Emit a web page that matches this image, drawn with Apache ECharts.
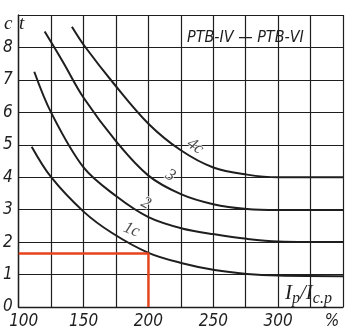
<!DOCTYPE html>
<html>
<head>
<meta charset="utf-8">
<style>
  html, body { margin: 0; padding: 0; background: #ffffff; }
  #chart { width: 352px; height: 336px; }
</style>
<script src="https://cdn.jsdelivr.net/npm/echarts@6/dist/echarts.min.js"></script>
</head>
<body>
<div id="chart"></div>
<script>
// Time-current characteristics of РТВ-IV – РТВ-VI relays:
// operating time t (s) versus overload ratio Ip/Ic.p (%)

// Curve "1c"
const ratio1 = [110, 125, 150, 172, 200, 226, 251, 276, 300, 350];
const time1  = [4.94, 4.0, 2.94, 2.28, 1.67, 1.35, 1.14, 1.02, 0.97, 0.95];

// Curve "2"
const ratio2 = [112, 125, 150, 175, 200, 226, 251, 276, 300, 350];
const time2  = [7.25, 5.99, 4.3, 3.42, 2.77, 2.42, 2.24, 2.1, 2.02, 2.0];

// Curve "3"
const ratio3 = [120, 134, 150, 176, 200, 225, 250, 276, 300, 350];
const time3  = [8.49, 7.56, 6.45, 5.06, 4.05, 3.48, 3.17, 3.02, 2.99, 2.99];

// Curve "4c"
const ratio4 = [141, 151, 174, 200, 225, 250, 276, 300, 350];
const time4  = [8.64, 8.03, 6.85, 5.65, 4.83, 4.3, 4.08, 4.0, 4.0];

const exampleRatio = [100, 200, 200];
const exampleTime  = [1.65, 1.65, 0];

// Curve tags and where they sit along each curve
const curveTags = ['1c', '2', '3', '4c'];
const tagRatio  = [187, 198, 217, 236];
const tagTime   = [2.38, 3.2, 4.05, 4.95];

// Axis ticks
const xTickLabels = [100, 150, 200, 250, 300];
const xUnitLabel = '%';
const yTickLabels = [0, 1, 2, 3, 4, 5, 6, 7, 8];

const ink = '#1e1e1e';
const tickFont = "'Liberation Sans Narrow', 'DejaVu Sans Condensed', sans-serif";
const serifFont = "'Liberation Serif', 'DejaVu Serif', serif";

function pairs(xs, ys) {
  return xs.map((x, i) => [x, ys[i]]);
}

function curveSeries(xs, ys) {
  return {
    type: 'line',
    data: pairs(xs, ys),
    smooth: 0.35,
    showSymbol: false,
    silent: true,
    lineStyle: { color: ink, width: 2 },
    z: 3
  };
}

const tagRotation = [-22, -28, -30, -35];

const chart = echarts.init(document.getElementById('chart'), null, { renderer: 'canvas' });

chart.setOption({
  backgroundColor: '#ffffff',
  animation: false,
  grid: { left: 16, right: 9, top: 15, bottom: 29, containLabel: false },
  xAxis: {
    type: 'value',
    min: 100,
    max: 350,
    interval: 25,
    axisLine: { show: true, lineStyle: { color: ink, width: 1.4 } },
    axisTick: { show: false },
    splitLine: { show: true, lineStyle: { color: ink, width: 1.2 } },
    axisLabel: {
      margin: 6,
      color: ink,
      fontFamily: tickFont,
      fontStyle: 'italic',
      fontSize: 17,
      formatter: function (v) {
        if (v === 100) return '{first|' + v + '}';
        if (v === 350) return '{unit|' + xUnitLabel + '}';
        return xTickLabels.indexOf(v) >= 0 ? String(v) : '';
      },
      rich: {
        first: { fontFamily: tickFont, fontStyle: 'italic', fontSize: 17, color: ink, padding: [0, 0, 0, 10] },
        unit: { fontFamily: tickFont, fontStyle: 'italic', fontSize: 17, color: ink, padding: [0, 22, 0, 0] }
      }
    }
  },
  yAxis: {
    type: 'value',
    min: 0,
    max: 9,
    interval: 1,
    axisLine: { show: true, lineStyle: { color: ink, width: 1.4 } },
    axisTick: { show: false },
    splitLine: { show: true, lineStyle: { color: ink, width: 1.2 } },
    axisLabel: {
      margin: 6,
      color: ink,
      fontFamily: tickFont,
      fontStyle: 'italic',
      fontSize: 17,
      padding: [5, 0, 0, 0],
      formatter: function (v) {
        return yTickLabels.indexOf(v) >= 0 ? String(v) : '';
      }
    }
  },
  series: [
    curveSeries(ratio1, time1),
    curveSeries(ratio2, time2),
    curveSeries(ratio3, time3),
    curveSeries(ratio4, time4),
    {
      type: 'line',
      data: pairs(exampleRatio, exampleTime),
      showSymbol: false,
      silent: true,
      lineStyle: { color: '#e8431c', width: 2.4 },
      z: 4
    },
    {
      type: 'scatter',
      symbolSize: 0,
      silent: true,
      data: tagRatio.map((x, i) => ({
        value: [x, tagTime[i]],
        label: {
          show: true,
          position: 'inside',
          formatter: curveTags[i],
          rotate: tagRotation[i],
          fontFamily: serifFont,
          fontStyle: 'italic',
          fontSize: 17,
          color: ink,
          textBorderColor: '#ffffff',
          textBorderWidth: 2
        }
      })),
      z: 5
    }
  ],
  graphic: [
    {
      type: 'text',
      left: 4,
      top: 14,
      style: { text: 'c', font: "italic 19px 'Liberation Serif', serif", fill: ink }
    },
    {
      type: 'text',
      left: 19,
      top: 14,
      style: { text: 't', font: "italic 19px 'Liberation Serif', serif", fill: ink }
    },
    {
      type: 'text',
      left: 187,
      top: 30,
      style: {
        text: 'РТВ-IV — РТВ-VI',
        font: "italic 16px 'Liberation Sans Narrow', 'DejaVu Sans Condensed', sans-serif",
        fill: ink
      }
    },
    {
      type: 'text',
      left: 285,
      top: 283,
      style: {
        text: '{i|I}{s|p}{i|/I}{s|c.p}',
        rich: {
          i: { font: "italic 21px 'Liberation Serif', serif", fill: ink, verticalAlign: 'bottom', lineHeight: 22 },
          s: { font: "italic 16px 'Liberation Serif', serif", fill: ink, verticalAlign: 'bottom', lineHeight: 22, padding: [0, 0, -3, 0] }
        }
      }
    }
  ]
});
</script>
</body>
</html>
